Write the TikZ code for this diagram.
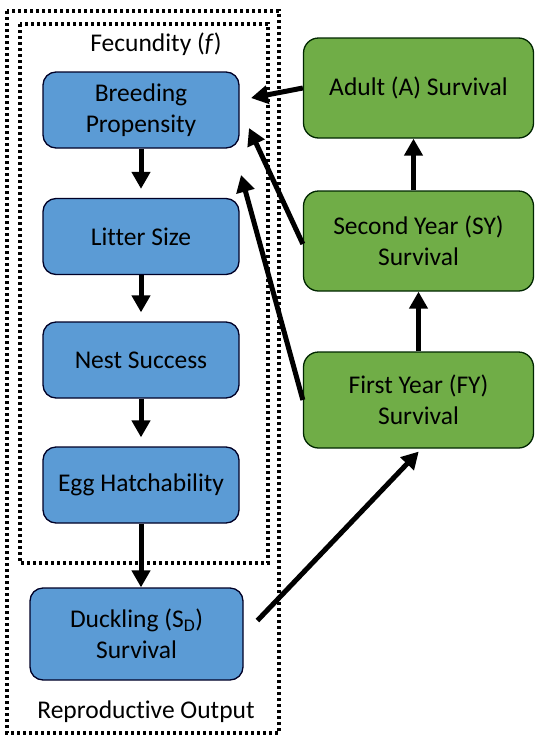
\documentclass[tikz,border=0pt]{standalone}
\usepackage{fontspec}
\setmainfont{Carlito}[Ligatures=NoCommon]
\usetikzlibrary{arrows.meta, positioning}

\definecolor{boxblue}{HTML}{5B9BD5}
\definecolor{boxgreen}{HTML}{70AD47}

\begin{document}
\begin{tikzpicture}[x=1pt, y=-1pt,
    every node/.style={font=\fontsize{25.5}{31}\selectfont, align=center},
    bluebox/.style={draw=black!85!blue, line width=1.3pt, fill=boxblue, rounded corners=13pt, minimum width=196pt, minimum height=76pt},
    greenbox/.style={draw=black!85!green, line width=1.3pt, fill=boxgreen, rounded corners=15pt, minimum width=230pt, minimum height=100pt},
    dotbox/.style={line width=3.2pt, dash pattern=on 3pt off 3pt},
    arr/.style={line width=5pt, -{Triangle[length=17pt, width=18pt]}}]
    \useasboundingbox (0,0) rectangle (542,742);

    % Dotted frames
    \draw[dotbox] (7,11) rectangle (279,733);
    \draw[dotbox] (20,24) rectangle (268,563);
    \node (fec) at (156,44) {Fecundity (\textit{f})};
    \node (repro) at (146,712) {Reproductive Output};

    % Fecundity components
    \node[bluebox] (breed) at (141,110) {Breeding\\Propensity};
    \node[bluebox] (litter) at (141,236.5) {Litter Size};
    \node[bluebox] (nest) at (141,360) {Nest Success};
    \node[bluebox] (egg) at (141,485) {Egg Hatchability};
    \node[bluebox, minimum width=213pt, minimum height=92pt] (duck) at (136.5,634) {Duckling (S\textsubscript{D})\\Survival};

    % Survival stages
    \node[greenbox] (adult) at (418.5,88) {Adult (A) Survival};
    \node[greenbox] (sy) at (418.5,241) {Second Year (SY)\\Survival};
    \node[greenbox, minimum height=96pt] (fy) at (418.5,400) {First Year (FY)\\Survival};

    % Arrow tips next to Breeding Propensity
    \coordinate (tipA) at (251,98);
    \coordinate (tipSY) at (249,128);
    \coordinate (tipFY) at (241,175);

    \foreach \a/\b in {breed/litter, litter/nest, nest/egg} {
        \draw[arr, shorten >=9pt] (\a) -- (\b);
    }
    \draw[arr] (egg.south) -- (egg.south |- duck.north);
    \draw[arr] ([xshift=-5pt]sy.north) -- ([xshift=-5pt]adult.south);
    \draw[arr] (fy) -- (sy);
    \draw[arr] (adult.west) -- (tipA);
    \draw[arr] ([yshift=-3pt]sy.west) -- (tipSY);
    \draw[arr] (fy.west) -- (tipFY);
    \draw[arr, shorten <=20pt, shorten >=4pt] ([yshift=-1pt]duck.east) -- ([xshift=3pt]fy.south);
\end{tikzpicture}
\end{document}
